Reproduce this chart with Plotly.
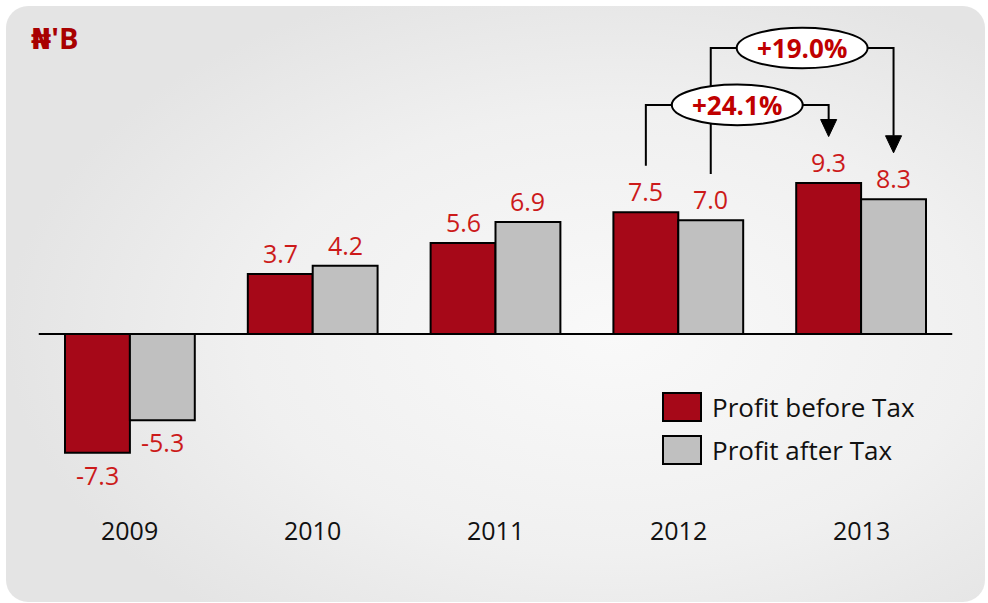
import base64
import plotly.graph_objects as go

# ---------------- data ----------------
years = ["2009", "2010", "2011", "2012", "2013"]
profit_before_tax = [-7.3, 3.7, 5.6, 7.5, 9.3]
profit_after_tax = [-5.3, 4.2, 6.9, 7.0, 8.3]
series_names = ["Profit before Tax", "Profit after Tax"]
growth_pbt_label = "+24.1%"
growth_pat_label = "+19.0%"
unit_label = "₦'B"

# ---------------- style ----------------
W, H = 988, 603
RED = "#A60818"
GREY = "#C0C0C0"
TXT_RED = "#CC1A1A"
FONT = "Open Sans, DejaVu Sans, sans-serif"
BARGAP = 0.29
half = (1 - BARGAP) / 4  # offset of each bar centre from category centre

x = list(range(len(years)))
x_dom = [38.5 / W, 952.5 / W]
px_per_unit = 16.25
zero_px = 334
y_range = [-(H - zero_px) / px_per_unit, zero_px / px_per_unit]

# background panel (rounded rect with soft radial gradient)
svg = f'''<svg xmlns="http://www.w3.org/2000/svg" width="{W}" height="{H}" viewBox="0 0 {W} {H}">
<defs><radialGradient id="g" cx="0.62" cy="0.55" r="0.62">
<stop offset="0" stop-color="#F9F9F9"/><stop offset="0.6" stop-color="#F0F0F0"/><stop offset="1" stop-color="#E4E4E4"/>
</radialGradient></defs>
<rect x="0" y="0" width="{W}" height="{H}" fill="#FFFFFF"/>
<rect x="6" y="6" width="979" height="596" rx="22" ry="22" fill="url(#g)"/>
</svg>'''
uri = "data:image/svg+xml;base64," + base64.b64encode(svg.encode()).decode()

fig = go.Figure()
fig.add_trace(go.Bar(x=x, y=profit_before_tax, name=series_names[0],
                     marker=dict(color=RED, line=dict(color="black", width=2)),
                     hoverinfo="skip"))
fig.add_trace(go.Bar(x=x, y=profit_after_tax, name=series_names[1],
                     marker=dict(color=GREY, line=dict(color="black", width=2)),
                     hoverinfo="skip"))

annotations = []
shapes = []

# value labels
for vals, off in ((profit_before_tax, -half), (profit_after_tax, half)):
    for xi, v in zip(x, vals):
        annotations.append(dict(x=xi + off, y=v, xref="x", yref="y", text=f"{v:.1f}",
                                showarrow=False, yanchor="middle",
                                yshift=21 if v >= 0 else -22,
                                font=dict(family=FONT, size=25, color=TXT_RED)))

# year labels
for xi, yr in zip(x, years):
    annotations.append(dict(x=xi, y=-12.06, xref="x", yref="y", text=yr, showarrow=False,
                            yanchor="middle", font=dict(family=FONT, size=25, color="#111111")))

# zero line
shapes.append(dict(type="line", xref="x", yref="y", x0=-0.5, x1=len(years) - 0.5, y0=0, y1=0,
                   line=dict(color="black", width=2)))

# growth brackets
gap = 2.85
lvl_low, lvl_high = 14.1, 17.6
ell_w, ell_h = 0.716, 2.5
head_w, head_l = 0.044, 1.05

i12, i13 = years.index("2012"), years.index("2013")
xa = i12 - half          # 2012 PBT
xb = i12 + half          # 2012 PAT
xc = i13 - half          # 2013 PBT
xd = i13 + half          # 2013 PAT


def bracket(x_from, v_from, x_to, v_to, level, label):
    cx = (x_from + x_to) / 2
    y_start = v_from + gap
    y_tip = v_to + gap
    shapes.append(dict(type="path", xref="x", yref="y",
                       path=f"M{x_from},{y_start} L{x_from},{level} L{cx - ell_w / 2},{level}",
                       line=dict(color="black", width=2)))
    shapes.append(dict(type="path", xref="x", yref="y",
                       path=f"M{cx + ell_w / 2},{level} L{x_to},{level} L{x_to},{y_tip + head_l}",
                       line=dict(color="black", width=2)))
    shapes.append(dict(type="path", xref="x", yref="y",
                       path=f"M{x_to - head_w},{y_tip + head_l} L{x_to + head_w},{y_tip + head_l} L{x_to},{y_tip} Z",
                       fillcolor="black", line=dict(color="black", width=1)))
    shapes.append(dict(type="circle", xref="x", yref="y",
                       x0=cx - ell_w / 2, x1=cx + ell_w / 2,
                       y0=level - ell_h / 2, y1=level + ell_h / 2,
                       fillcolor="white", line=dict(color="black", width=2)))
    annotations.append(dict(x=cx, y=level, xref="x", yref="y", text=f"<b>{label}</b>",
                            showarrow=False, font=dict(family=FONT, size=26, color="#C00000")))


bracket(xb, profit_after_tax[i12], xd, profit_after_tax[i13], lvl_high, growth_pat_label)
bracket(xa, profit_before_tax[i12], xc, profit_before_tax[i13], lvl_low, growth_pbt_label)

# title / unit
annotations.append(dict(x=29 / W, y=1 - 37 / H, xref="paper", yref="paper", xanchor="left",
                        yanchor="middle", text=f"<b>{unit_label}</b>", showarrow=False,
                        font=dict(family=FONT, size=29, color="#A80000")))

# legend (manual, large swatches)
for k, (name, col) in enumerate(zip(series_names, (RED, GREY))):
    yc = 407 + 43 * k
    shapes.append(dict(type="rect", xref="paper", yref="paper",
                       x0=663 / W, x1=701 / W, y0=1 - (yc - 14) / H, y1=1 - (yc + 14) / H,
                       fillcolor=col, line=dict(color="black", width=2)))
    annotations.append(dict(x=710 / W, y=1 - yc / H, xref="paper", yref="paper",
                            xanchor="left", yanchor="middle", text=name, showarrow=False,
                            font=dict(family=FONT, size=26, color="#111111")))

fig.update_layout(
    width=W, height=H,
    margin=dict(l=0, r=0, t=0, b=0),
    paper_bgcolor="white",
    plot_bgcolor="rgba(0,0,0,0)",
    barmode="group", bargap=BARGAP, bargroupgap=0,
    showlegend=False,
    xaxis=dict(domain=x_dom, range=[-0.5, len(years) - 0.5], visible=False, fixedrange=True),
    yaxis=dict(domain=[0, 1], range=y_range, visible=False, fixedrange=True),
    images=[dict(source=uri, xref="paper", yref="paper", x=0, y=1, sizex=1, sizey=1,
                 xanchor="left", yanchor="top", sizing="stretch", layer="below")],
    shapes=shapes,
    annotations=annotations,
)

fig.write_html("out.html", config={"displayModeBar": False},
               post_script="document.body.style.margin='0';")
